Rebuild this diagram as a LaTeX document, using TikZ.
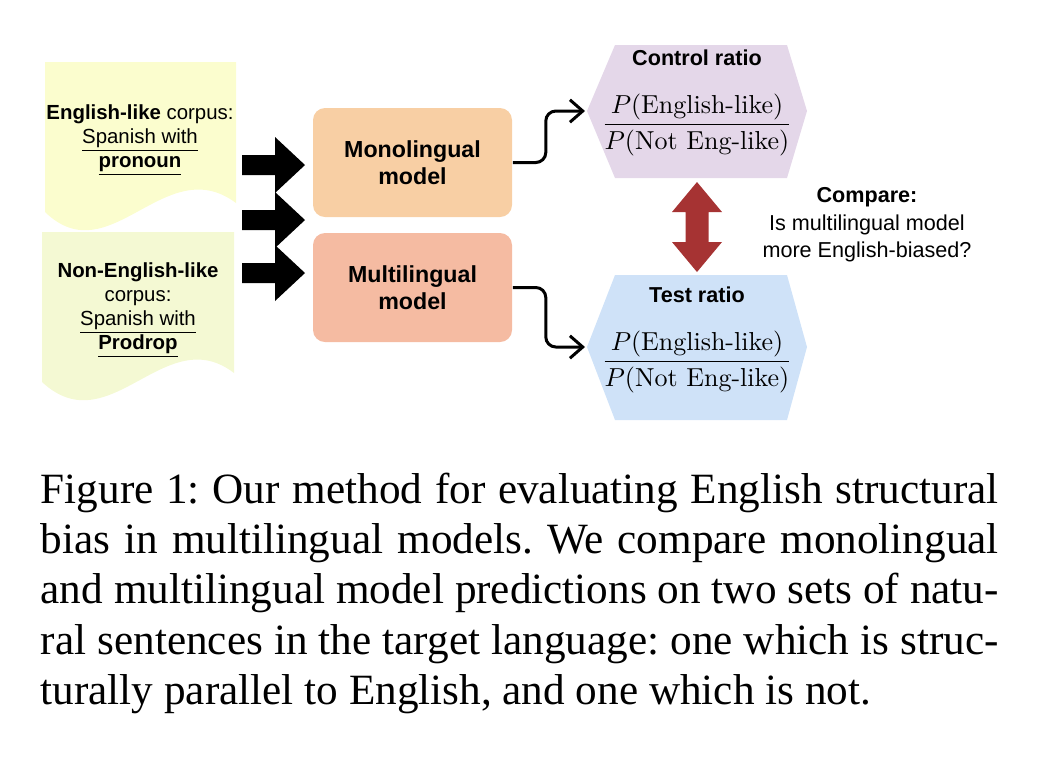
\documentclass[tikz,border=0pt]{standalone}
\usepackage{fontspec}
\setsansfont{Liberation Sans}
\newfontfamily\captionserif{Liberation Serif}
\newfontfamily\fracserif{lmroman10-regular}[Extension=.otf]
\usetikzlibrary{arrows.meta}
\tikzset{>={Straight Barb[length=3.2pt,width=5.6pt]}}
\definecolor{docyellow}{HTML}{FBFDCE}
\definecolor{docgreen}{HTML}{F4F9D3}
\definecolor{monofill}{HTML}{F8CFA4}
\definecolor{multifill}{HTML}{F5BBA2}
\definecolor{controlfill}{HTML}{E4D7E9}
\definecolor{testfill}{HTML}{CFE2F8}
\definecolor{comparered}{HTML}{A63333}
\newcommand{\undl}[1]{\leavevmode\setbox0\hbox{#1}\rlap{\vrule height -1.5pt depth 1.95pt width \wd0}\box0}
\newcommand{\engratio}{\scalebox{0.65}{$\displaystyle\frac{P(\mbox{\fracserif English-like})}{P(\mbox{\fracserif Not Eng-like})}$}}
\tikzset{
  corpustext/.style={font=\sffamily\fontsize{5.1}{6}\selectfont, align=center, inner sep=0pt},
  modelbox/.style={rounded corners=3pt, minimum width=49.75pt, minimum height=27.25pt, inner sep=0pt, align=center, font=\sffamily\bfseries\fontsize{5.8}{6.75}\selectfont},
  ratiotitle/.style={font=\sffamily\bfseries\fontsize{5.4}{6.5}\selectfont, inner sep=0pt},
  ratiofrac/.style={font=\fontsize{10}{12}\selectfont, inner sep=0pt},
  comparetext/.style={font=\sffamily\fontsize{5.4}{6.9}\selectfont, align=center, inner sep=0pt},
  captiontext/.style={font=\captionserif\fontsize{10.8}{12.6}\selectfont\frenchspacing, text width=239.5pt, align=justify, inner sep=0pt},
  flow/.style={->, line width=0.75pt, rounded corners=2.5pt}
}

\begin{document}
\begin{tikzpicture}[x=0.25pt, y=-0.25pt]
  \useasboundingbox (0,0) rectangle (1040,764);
  \fill[docyellow] (45,62) -- (236,62) -- (236,203) .. controls (165,150) and (110,275) .. (45,212) -- cycle;
  \fill[docgreen] (42,232) -- (234,232) -- (234,373) .. controls (165,320) and (110,445) .. (42,382) -- cycle;
  \node[corpustext] (englike) at (140,140) {\textbf{English-like} corpus:\\\undl{Spanish with}\\\undl{\textbf{pronoun}}};
  \node[corpustext] (nonenglike) at (138,310) {\textbf{Non-English-like}\\corpus:\\\undl{Spanish with}\\\undl{\textbf{Prodrop}}};
  \foreach \y in {165,220,273}
    \fill (242,\y-10) -- (275,\y-10) -- (275,\y-28) -- (305,\y) -- (275,\y+28) -- (275,\y+10) -- (242,\y+10) -- cycle;
  \node[modelbox, fill=monofill] (mono) at (412.5,162.5) {Monolingual\\model};
  \node[modelbox, fill=multifill] (multi) at (412.5,287.5) {Multilingual\\model};
  \fill[controlfill] (587,111) -- (615,45) -- (787,45) -- (807,111) -- (787,178) -- (615,178) -- cycle;
  \fill[testfill] (587,347) -- (615,275) -- (787,275) -- (807,347) -- (787,420) -- (615,420) -- cycle;
  \coordinate (controlin) at (585,111);
  \coordinate (testin) at (585,347);
  \node[ratiotitle] (controltitle) at (697,58) {Control ratio};
  \node[ratiofrac] (controlfrac) at (697,125) {\engratio};
  \node[ratiotitle] (testtitle) at (697,295) {Test ratio};
  \node[ratiofrac] (testfrac) at (697,362) {\engratio};
  \draw[flow] (mono.east) -- ++(33,0) |- (controlin);
  \draw[flow] (multi.east) -- ++(33,0) |- (testin);
  \fill[comparered] (697,182) -- (722,212) -- (708.5,212) -- (708.5,242) -- (722,242) -- (697,272) -- (672,242) -- (685.5,242) -- (685.5,212) -- (672,212) -- cycle;
  \node[comparetext] (compare) at (867,225) {\textbf{Compare:}\\Is multilingual model\\more English-biased?};
  \node[captiontext, anchor=north west] (caption) at (40,467) {\strut Figure 1: Our method for evaluating English structural\linebreak bias in multilingual models. We compare monolingual\linebreak and multilingual model predictions on two sets of natu-\linebreak ral sentences in the target language: one which is struc-\linebreak turally parallel to English, and one which is not.};
\end{tikzpicture}
\end{document}
